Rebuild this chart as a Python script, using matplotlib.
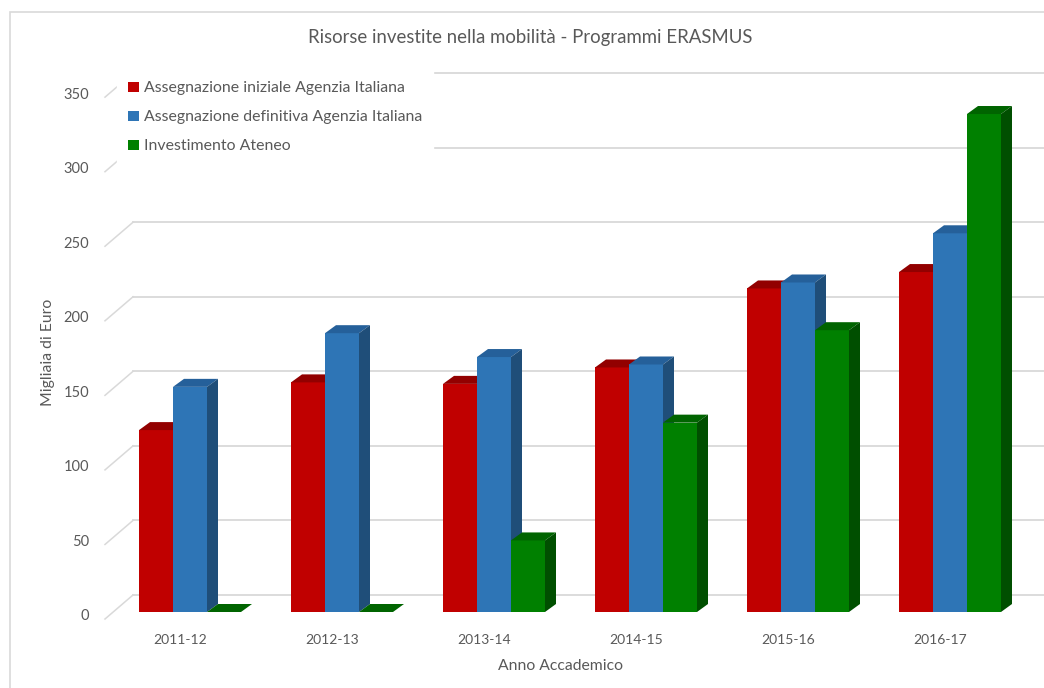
import matplotlib
matplotlib.use("Agg")
import matplotlib.pyplot as plt
from matplotlib.patches import Polygon, Patch, Rectangle
from matplotlib.lines import Line2D

# ---------------- data ----------------
categories = ["2011-12", "2012-13", "2013-14", "2014-15", "2015-16", "2016-17"]
iniziale = [122, 154, 153, 164, 217, 228]
definitiva = [151, 187, 171, 166, 221, 254]
ateneo = [0, 0, 48, 127, 189, 334]
series_names = ["Assegnazione iniziale Agenzia Italiana",
                "Assegnazione definitiva Agenzia Italiana",
                "Investimento Ateneo"]
yticks = [0, 50, 100, 150, 200, 250, 300, 350]

title = "Risorse investite nella mobilità - Programmi ERASMUS"
xlabel = "Anno Accademico"
ylabel = "Migliaia di Euro"

# ---------------- styles ----------------
front_cols = ["#C00000", "#2E75B6", "#008000"]
top_cols = ["#920000", "#25609A", "#006400"]
side_cols = ["#7A0000", "#1F4E79", "#004F00"]
grid_col = "#D9D9D9"
text_col = "#595959"
FONT = ["Lato", "DejaVu Sans"]
plt.rcParams["font.family"] = FONT

W, H = 1044, 688
fig = plt.figure(figsize=(W / 100, H / 100), dpi=100)
ax = fig.add_axes([0, 0, 1, 1])
ax.axis("off")

# pixel layout of the pseudo-3D frame
PX_PER_CAT = 152.0
PX_PER_VAL = 1.491
X0_PX = 190.0     # x pixel of first group centre (bar front plane)
Y0_PX = 76.0      # y pixel (from bottom) of value 0 at bar front plane
ax.set_xlim(-X0_PX / PX_PER_CAT, (W - X0_PX) / PX_PER_CAT)
ax.set_ylim(-Y0_PX / PX_PER_VAL, (H - Y0_PX) / PX_PER_VAL)


def dx(p):
    return p / PX_PER_CAT


def dy(p):
    return p / PX_PER_VAL


BAR_DX, BAR_DY = dx(11), dy(8)          # bar depth
BACK_DX, BACK_DY = dx(20), dy(17)       # back wall relative to bar plane
FRONT_DX, FRONT_DY = dx(-8), dy(-7)     # floor front edge relative to bar plane
bar_w = 34 / PX_PER_CAT

x_right_end = ax.get_xlim()[1]
x_back_left = dx(133 - X0_PX)
x_front_left = x_back_left - BACK_DX + FRONT_DX

# gridlines on back wall + slanted lines on the side
for v in yticks:
    ax.add_line(Line2D([x_back_left, x_right_end], [v + BACK_DY, v + BACK_DY],
                       color=grid_col, lw=1.3, zorder=1))
    ax.add_line(Line2D([x_front_left, x_back_left], [v + FRONT_DY, v + BACK_DY],
                       color=grid_col, lw=1.1, zorder=1))
    ax.text(x_front_left - dx(16), v + FRONT_DY + dy(2.5), str(v),
            ha="right", va="center", fontsize=10.5, color=text_col)

# bars
series = [iniziale, definitiva, ateneo]
z = 3
for i, cat in enumerate(categories):
    for k, vals in enumerate(series):
        h = vals[i]
        xl = i - 1.5 * bar_w + k * bar_w
        ax.bar(xl, h, width=bar_w, align="edge", color=front_cols[k],
               linewidth=0, zorder=z)
        top = [(xl, h), (xl + bar_w, h), (xl + bar_w + BAR_DX, h + BAR_DY),
               (xl + BAR_DX, h + BAR_DY)]
        side = [(xl + bar_w, 0), (xl + bar_w + BAR_DX, BAR_DY),
                (xl + bar_w + BAR_DX, h + BAR_DY), (xl + bar_w, h)]
        ax.add_patch(Polygon(top, closed=True, facecolor=top_cols[k],
                             edgecolor="none", zorder=z))
        ax.add_patch(Polygon(side, closed=True, facecolor=side_cols[k],
                             edgecolor="none", zorder=z))
        z += 1
    ax.text(i + FRONT_DX - dx(2), -dy(28), cat, ha="center", va="center",
            fontsize=10, color=text_col)

# titles
fig.text(530 / W, 1 - 37 / H, title, ha="center", va="center",
         fontsize=13.4, color=text_col)
fig.text(48 / W, 1 - 352 / H, ylabel, ha="center", va="center",
         rotation=90, fontsize=11.3, color=text_col)
fig.text(560 / W, 1 - 666 / H, xlabel, ha="center", va="center",
         fontsize=11.3, color=text_col)

# legend
handles = [Patch(facecolor=c, edgecolor="none", label=n)
           for c, n in zip(front_cols, series_names)]
leg = ax.legend(handles=handles, loc="upper left",
                bbox_to_anchor=(117 / W, 1 - 70 / H), bbox_transform=fig.transFigure,
                frameon=True, fancybox=False, framealpha=1, facecolor="white",
                edgecolor="white", borderpad=0.72, borderaxespad=0,
                handlelength=0.65, handleheight=0.65, handletextpad=0.32,
                labelspacing=0.95, fontsize=11.4)
for t in leg.get_texts():
    t.set_color(text_col)
leg.set_zorder(2)

# chart area border
fig.patches.append(Rectangle((10 / W, -0.5), 2, 0.5 + 1 - 12 / H,
                             transform=fig.transFigure, fill=False,
                             edgecolor=grid_col, lw=1.2))

fig.savefig("out.png", dpi=100, facecolor="white")
